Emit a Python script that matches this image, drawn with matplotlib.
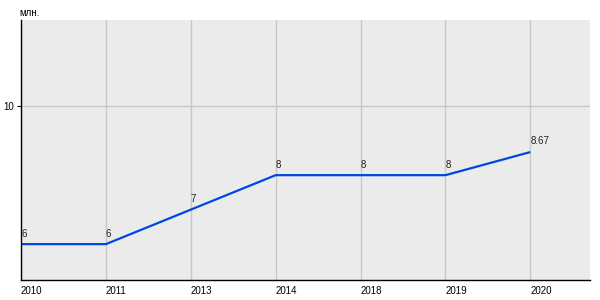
import matplotlib
matplotlib.use("Agg")
import matplotlib.pyplot as plt
import numpy as np

plt.rcParams["font.family"] = ["Liberation Sans", "DejaVu Sans"]

years = ["2010", "2011", "2013", "2014", "2018", "2019", "2020"]
values = [6, 6, 7, 8, 8, 8, 8.67]
labels = ["6", "6", "7", "8", "8", "8", "8.67"]

fig = plt.figure(figsize=(6, 3), dpi=100)
ax = fig.add_axes([0.035, 0.0667, 0.948, 0.8667])
ax.set_facecolor("#ebebeb")

x = np.arange(len(years))
ax.plot(x, values, color="#0047e0", linewidth=1.6, solid_capstyle="butt")
for xi, v, lab in zip(x, values, labels):
    ax.annotate(lab, (xi, v), xytext=(0, 4), textcoords="offset points",
                fontsize=7, ha="left", va="bottom", color="#222222")

ax.set_xlim(0, 6.7)
ax.set_ylim(4.96, 12.5)
ax.set_xticks(x)
ax.set_xticklabels(years, fontsize=7, ha="left")
ax.set_yticks([10])
ax.set_yticklabels(["10"], fontsize=7)
ax.tick_params(axis="x", length=0, pad=4)
ax.tick_params(axis="y", length=3, pad=2)
ax.grid(True, color="#c8c8c8", linewidth=1)
ax.set_axisbelow(True)

for s in ["top", "right"]:
    ax.spines[s].set_visible(False)
for s in ["left", "bottom"]:
    ax.spines[s].set_color("black")
    ax.spines[s].set_linewidth(1)

fig.text(0.033, 0.947, "млн.", fontsize=7, ha="left", va="baseline")

fig.savefig("out.png", dpi=100, facecolor="white")
